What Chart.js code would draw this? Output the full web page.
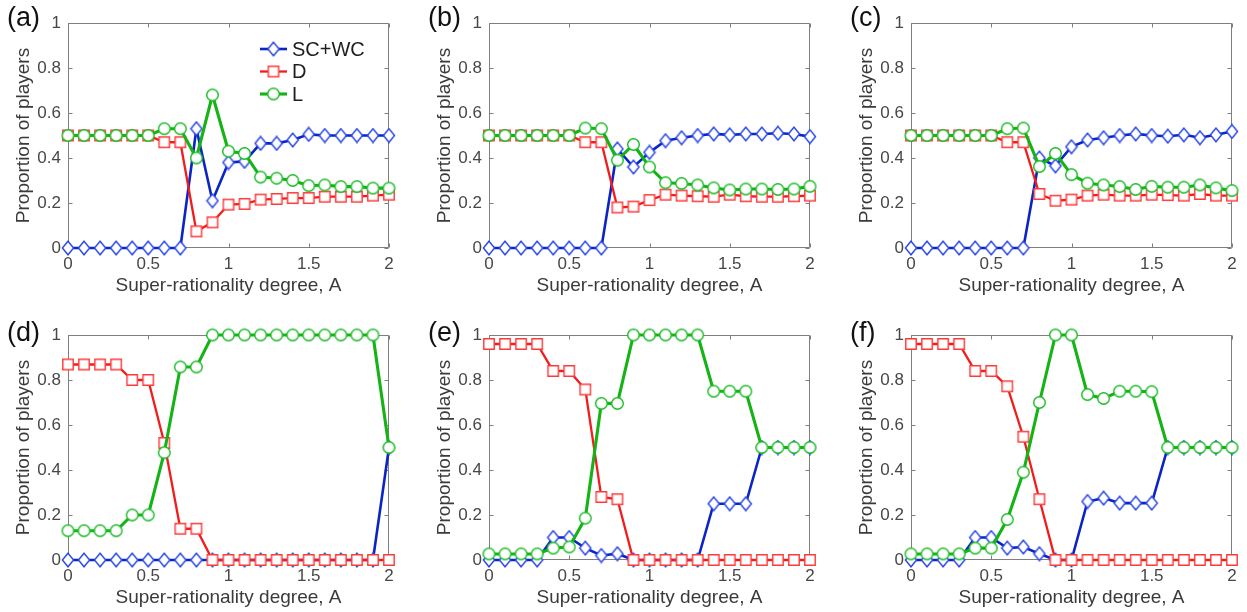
<!DOCTYPE html>
<html>
<head>
<meta charset="utf-8">
<title>Proportion of players vs super-rationality degree</title>
<script src="https://cdn.jsdelivr.net/npm/chart.js@4.4.1/dist/chart.umd.min.js"></script>
<style>
  html, body { margin: 0; padding: 0; background: #fff; }
  #fig { position: relative; width: 1247px; height: 612px; overflow: hidden; }
  #fig canvas { position: absolute; }
</style>
</head>
<body>
<div id="fig">
  <canvas id="panel-a" width="400" height="300" style="left:0px;top:0px"></canvas>
  <canvas id="panel-b" width="400" height="300" style="left:421px;top:0px"></canvas>
  <canvas id="panel-c" width="400" height="300" style="left:843px;top:0px"></canvas>
  <canvas id="panel-d" width="400" height="300" style="left:0px;top:312px"></canvas>
  <canvas id="panel-e" width="400" height="300" style="left:421px;top:312px"></canvas>
  <canvas id="panel-f" width="400" height="300" style="left:843px;top:312px"></canvas>
</div>
<script>
'use strict';

// ── datos ───────────────────────────────────────────────────────────────────
const A_VALUES = [0, 0.1, 0.2, 0.3, 0.4, 0.5, 0.6, 0.7, 0.8, 0.9, 1, 1.1, 1.2, 1.3, 1.4, 1.5, 1.6, 1.7, 1.8, 1.9, 2];
const X_TICKS  = [0, 0.5, 1, 1.5, 2];
const Y_TICKS  = [0, 0.2, 0.4, 0.6, 0.8, 1];
const SERIES_NAMES = ['SC+WC', 'D', 'L'];
const X_TITLE = 'Super-rationality degree, A';
const Y_TITLE = 'Proportion of players';

const SCWC_A = [0, 0, 0, 0, 0, 0, 0, 0, 0.53, 0.21, 0.38, 0.385, 0.465, 0.465, 0.48, 0.505, 0.50, 0.50, 0.50, 0.50, 0.50];
const D_A    = [0.5, 0.5, 0.5, 0.5, 0.5, 0.5, 0.47, 0.47, 0.074, 0.114, 0.193, 0.196, 0.215, 0.218, 0.222, 0.222, 0.228, 0.228, 0.228, 0.233, 0.237];
const L_A    = [0.5, 0.5, 0.5, 0.5, 0.5, 0.5, 0.53, 0.53, 0.40, 0.68, 0.43, 0.42, 0.315, 0.31, 0.30, 0.277, 0.28, 0.273, 0.273, 0.266, 0.266];

const SCWC_B = [0, 0, 0, 0, 0, 0, 0, 0, 0.44, 0.36, 0.425, 0.477, 0.49, 0.50, 0.507, 0.503, 0.507, 0.507, 0.51, 0.507, 0.495];
const D_B    = [0.5, 0.5, 0.5, 0.5, 0.5, 0.5, 0.47, 0.47, 0.18, 0.184, 0.213, 0.237, 0.233, 0.23, 0.228, 0.237, 0.23, 0.228, 0.228, 0.23, 0.233];
const L_B    = [0.5, 0.5, 0.5, 0.5, 0.5, 0.5, 0.533, 0.53, 0.39, 0.46, 0.36, 0.29, 0.287, 0.28, 0.267, 0.258, 0.262, 0.262, 0.26, 0.262, 0.274];

const SCWC_C = [0, 0, 0, 0, 0, 0, 0, 0, 0.40, 0.365, 0.45, 0.48, 0.49, 0.50, 0.507, 0.50, 0.497, 0.503, 0.49, 0.503, 0.518];
const D_C    = [0.5, 0.5, 0.5, 0.5, 0.5, 0.5, 0.47, 0.47, 0.24, 0.21, 0.215, 0.233, 0.237, 0.233, 0.233, 0.237, 0.235, 0.233, 0.24, 0.233, 0.233];
const L_C    = [0.5, 0.5, 0.5, 0.5, 0.5, 0.5, 0.53, 0.533, 0.362, 0.42, 0.326, 0.288, 0.28, 0.273, 0.26, 0.274, 0.27, 0.27, 0.28, 0.267, 0.255];

const SCWC_D = [0, 0, 0, 0, 0, 0, 0, 0, 0, 0, 0, 0, 0, 0, 0, 0, 0, 0, 0, 0, 0.5];
const D_D    = [0.869, 0.869, 0.869, 0.869, 0.80, 0.80, 0.52, 0.139, 0.139, 0, 0, 0, 0, 0, 0, 0, 0, 0, 0, 0, 0];
const L_D    = [0.13, 0.13, 0.13, 0.13, 0.20, 0.20, 0.477, 0.858, 0.858, 1, 1, 1, 1, 1, 1, 1, 1, 1, 1, 1, 0.5];

const SCWC_E = [0, 0, 0, 0, 0.10, 0.10, 0.053, 0.02, 0.028, 0, 0, 0, 0, 0, 0.25, 0.25, 0.25, 0.5, 0.5, 0.5, 0.5];
const D_E    = [0.96, 0.96, 0.96, 0.96, 0.84, 0.84, 0.758, 0.28, 0.27, 0, 0, 0, 0, 0, 0, 0, 0, 0, 0, 0, 0];
const L_E    = [0.027, 0.027, 0.027, 0.027, 0.053, 0.058, 0.186, 0.696, 0.696, 1, 1, 1, 1, 1, 0.75, 0.75, 0.75, 0.5, 0.5, 0.5, 0.5];

const SCWC_F = [0, 0, 0, 0, 0.10, 0.10, 0.053, 0.058, 0.028, 0, 0, 0.26, 0.275, 0.253, 0.253, 0.253, 0.5, 0.5, 0.5, 0.5, 0.5];
const D_F    = [0.96, 0.96, 0.96, 0.96, 0.84, 0.84, 0.772, 0.548, 0.27, 0, 0, 0, 0, 0, 0, 0, 0, 0, 0, 0, 0];
const L_F    = [0.027, 0.027, 0.027, 0.027, 0.053, 0.053, 0.18, 0.39, 0.70, 1, 1, 0.735, 0.718, 0.75, 0.75, 0.748, 0.5, 0.5, 0.5, 0.5, 0.5];

// ── paleta ──────────────────────────────────────────────────────────────────
const COLOR_BLUE_LINE  = '#0a24c6';
const COLOR_BLUE_MARK  = '#2a46ea';
const COLOR_RED_LINE   = '#f21c1c';
const COLOR_RED_MARK   = '#ff3838';
const COLOR_GREEN_LINE = '#16b316';
const COLOR_GREEN_MARK = '#19bc24';
const COLOR_FRAME      = '#7f7f7f';
const COLOR_TICK_TEXT  = '#474747';
const COLOR_TITLE      = '#3a3a3a';
const FONT_FAMILY      = "'Liberation Sans', Arial, Helvetica, sans-serif";

// ── marcadores (huecos, relleno blanco) ─────────────────────────────────────
function makeMarker(kind, color) {
    const c = document.createElement('canvas');
    const g = c.getContext('2d');
    if (kind === 'diamond') {
        c.width = 14; c.height = 16;
        g.beginPath();
        g.moveTo(7, 1.2); g.lineTo(12.6, 8); g.lineTo(7, 14.8); g.lineTo(1.4, 8);
        g.closePath();
    } else if (kind === 'square') {
        c.width = 14; c.height = 14;
        g.beginPath();
        g.rect(1.8, 1.8, 10.4, 10.4);
    } else {
        c.width = 15; c.height = 15;
        g.beginPath();
        g.arc(7.5, 7.5, 5.8, 0, Math.PI * 2);
    }
    g.fillStyle = '#ffffff';
    g.fill();
    g.lineWidth = 1.4;
    g.strokeStyle = color;
    g.stroke();
    return c;
}

const MARK_SCWC = makeMarker('diamond', COLOR_BLUE_MARK);
const MARK_D    = makeMarker('square',  COLOR_RED_MARK);
const MARK_L    = makeMarker('circle',  COLOR_GREEN_MARK);

const STYLES = [
    { line: COLOR_BLUE_LINE,  mark: MARK_SCWC, width: 2.6 },
    { line: COLOR_RED_LINE,   mark: MARK_D,    width: 2.3 },
    { line: COLOR_GREEN_LINE, mark: MARK_L,    width: 3.1 },
];

// ── plugins ─────────────────────────────────────────────────────────────────
// caja de ejes con marcas hacia dentro en los cuatro lados
const framePlugin = {
    id: 'frame',
    beforeDatasetsDraw(chart) {
        const { ctx, chartArea: a, scales: { x, y } } = chart;
        const L = Math.round(a.left) + 0.5, R = Math.round(a.right) - 0.5;
        const T = Math.round(a.top) + 0.5,  B = Math.round(a.bottom) - 0.5;
        const tl = 4;
        ctx.save();
        ctx.strokeStyle = COLOR_FRAME;
        ctx.lineWidth = 1;
        ctx.beginPath();
        ctx.rect(L, T, R - L, B - T);
        X_TICKS.forEach(v => {
            const px = Math.round(x.getPixelForValue(v)) + 0.5;
            ctx.moveTo(px, B); ctx.lineTo(px, B - tl);
            ctx.moveTo(px, T); ctx.lineTo(px, T + tl);
        });
        Y_TICKS.forEach(v => {
            const py = Math.round(y.getPixelForValue(v)) + 0.5;
            ctx.moveTo(L, py); ctx.lineTo(L + tl, py);
            ctx.moveTo(R, py); ctx.lineTo(R - tl, py);
        });
        ctx.stroke();
        ctx.restore();
    },
};

// etiqueta (a)…(f) y leyenda del primer panel
const annotPlugin = {
    id: 'annot',
    afterDraw(chart, args, opts) {
        const { ctx, chartArea: a } = chart;
        ctx.save();
        ctx.fillStyle = '#111';
        ctx.font = `27px ${FONT_FAMILY}`;
        ctx.textBaseline = 'alphabetic';
        ctx.textAlign = 'left';
        ctx.fillText(opts.label, a.left - 61, a.top + opts.labelDy);

        if (opts.legend) {
            const rows = [26, 48.5, 71];
            ctx.font = `20px ${FONT_FAMILY}`;
            ctx.textBaseline = 'middle';
            SERIES_NAMES.forEach((name, i) => {
                const s = STYLES[i];
                const y = a.top + rows[i];
                const x0 = a.left + 192, x1 = a.left + 219, xm = (x0 + x1) / 2;
                ctx.strokeStyle = s.line;
                ctx.lineWidth = s.width;
                ctx.beginPath(); ctx.moveTo(x0, y); ctx.lineTo(x1, y); ctx.stroke();
                ctx.drawImage(s.mark, xm - s.mark.width / 2, y - s.mark.height / 2);
                ctx.fillStyle = '#1e1e1e';
                ctx.fillText(name, a.left + 224, y + 1);
            });
        }
        ctx.restore();
    },
};

// ── paneles ─────────────────────────────────────────────────────────────────
const PANELS = [
    { id: 'panel-a', label: '(a)', labelDy: 3, legend: true,  series: [SCWC_A, D_A, L_A] },
    { id: 'panel-b', label: '(b)', labelDy: 3, legend: false, series: [SCWC_B, D_B, L_B] },
    { id: 'panel-c', label: '(c)', labelDy: 3, legend: false, series: [SCWC_C, D_C, L_C] },
    { id: 'panel-d', label: '(d)', labelDy: 6, legend: false, series: [SCWC_D, D_D, L_D] },
    { id: 'panel-e', label: '(e)', labelDy: 6, legend: false, series: [SCWC_E, D_E, L_E] },
    { id: 'panel-f', label: '(f)', labelDy: 6, legend: false, series: [SCWC_F, D_F, L_F] },
];

function buildPanel(p) {
    const datasets = p.series.map((vals, i) => ({
        label: SERIES_NAMES[i],
        data: A_VALUES.map((a, k) => ({ x: a, y: vals[k] })),
        borderColor: STYLES[i].line,
        borderWidth: STYLES[i].width,
        pointStyle: STYLES[i].mark,
        pointRadius: 6,
        clip: false,
        tension: 0,
        order: 3 - i,          // L encima, SC+WC debajo
    }));

    const tickFont  = { family: FONT_FAMILY, size: 17 };
    const titleFont = { family: FONT_FAMILY, size: 19 };

    return new Chart(document.getElementById(p.id), {
        type: 'line',
        data: { datasets },
        options: {
            responsive: false,
            animation: false,
            events: [],
            layout: { padding: { top: 23, right: 11, bottom: 0, left: 0 } },
            plugins: {
                legend: { display: false },
                tooltip: { enabled: false },
                annot: { label: p.label, labelDy: p.labelDy, legend: p.legend },
            },
            scales: {
                x: {
                    type: 'linear',
                    min: 0,
                    max: 2,
                    grid: { display: false, drawTicks: false },
                    border: { display: false },
                    afterBuildTicks: s => { s.ticks = X_TICKS.map(v => ({ value: v })); },
                    afterFit: s => { s.height = 52; },
                    ticks: { padding: 6, color: COLOR_TICK_TEXT, font: tickFont, maxRotation: 0, autoSkip: false, callback: v => String(v) },
                    title: { display: true, text: X_TITLE, color: COLOR_TITLE, font: titleFont, padding: { top: 0, bottom: 3 } },
                },
                y: {
                    type: 'linear',
                    min: 0,
                    max: 1,
                    grid: { display: false, drawTicks: false },
                    border: { display: false },
                    afterBuildTicks: s => { s.ticks = Y_TICKS.map(v => ({ value: v })); },
                    afterFit: s => { s.width = 68; },
                    ticks: { padding: 7, color: COLOR_TICK_TEXT, font: tickFont, autoSkip: false, callback: v => String(v) },
                    title: { display: true, text: Y_TITLE, color: COLOR_TITLE, font: titleFont, padding: { top: 12, bottom: 0 } },
                },
            },
        },
        plugins: [framePlugin, annotPlugin],
    });
}

PANELS.forEach(buildPanel);
</script>
</body>
</html>
